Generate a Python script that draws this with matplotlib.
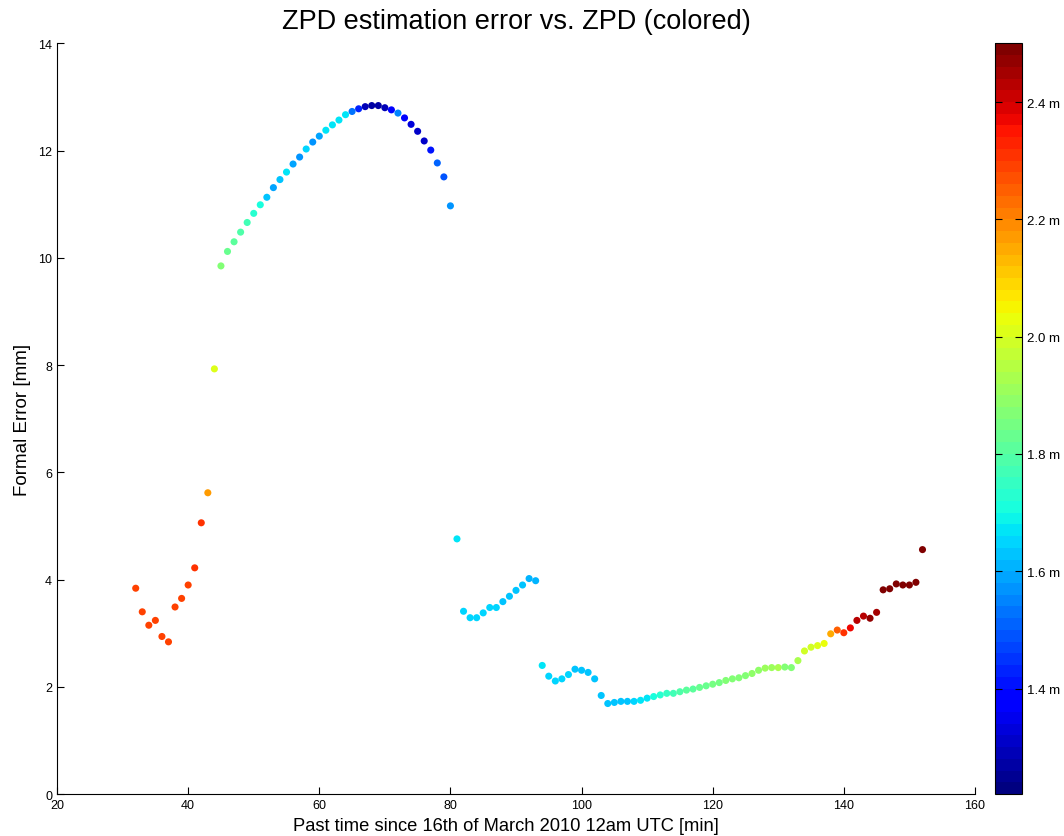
import numpy as np
import matplotlib
matplotlib.use('Agg')
import matplotlib.pyplot as plt

plt.rcParams['font.family'] = ['Liberation Sans', 'DejaVu Sans']

# minutes since 16th of March 2010 12am UTC
minutes = [32, 33, 34, 35, 36, 37, 38, 39, 40, 41, 42, 43, 44,
           45, 46, 47, 48, 49, 50, 51, 52, 53, 54, 55, 56, 57, 58, 59, 60,
           61, 62, 63, 64, 65, 66, 67, 68, 69, 70, 71, 72, 73, 74, 75, 76,
           77, 78, 79, 80,
           81, 82, 83, 84, 85, 86, 87, 88, 89, 90, 91, 92, 93,
           94, 95, 96, 97, 98, 99, 100, 101, 102, 103, 104, 105, 106, 107,
           108, 109, 110, 111, 112, 113, 114, 115, 116, 117, 118, 119, 120,
           121, 122, 123, 124, 125, 126, 127, 128, 129, 130, 131, 132, 133,
           134, 135, 136, 137, 138, 139, 140, 141, 142, 143, 144, 145, 146,
           147, 148, 149, 150, 151, 152]

# formal error [mm]
formal_err = [3.84, 3.40, 3.15, 3.24, 2.94, 2.84, 3.49, 3.65, 3.90, 4.22, 5.06, 5.62, 7.93,
              9.85, 10.12, 10.30, 10.48, 10.66, 10.83, 10.99, 11.13, 11.31, 11.46, 11.60,
              11.75, 11.88, 12.03, 12.16, 12.27, 12.38, 12.48, 12.57, 12.67, 12.73, 12.78,
              12.82, 12.84, 12.84, 12.80, 12.76, 12.70, 12.61, 12.49, 12.36, 12.18, 12.01,
              11.77, 11.51, 10.97,
              4.76, 3.41, 3.29, 3.29, 3.38, 3.48, 3.48, 3.59, 3.69, 3.80, 3.90, 4.02, 3.98,
              2.40, 2.20, 2.11, 2.15, 2.23, 2.33, 2.31, 2.27, 2.15, 1.84, 1.69, 1.71, 1.73,
              1.73, 1.73, 1.75, 1.79, 1.82, 1.85, 1.88, 1.88, 1.91, 1.94, 1.96, 1.99, 2.02,
              2.05, 2.08, 2.12, 2.15, 2.17, 2.21, 2.25, 2.31, 2.35, 2.36, 2.36, 2.37, 2.36,
              2.49, 2.67, 2.74, 2.77, 2.81, 2.99, 3.06, 3.01, 3.10, 3.24, 3.32, 3.28, 3.39,
              3.81, 3.83, 3.92, 3.90, 3.90, 3.95, 4.56]

# ZPD [m] (colour)
zpd = [2.29, 2.29, 2.30, 2.29, 2.29, 2.30, 2.29, 2.29, 2.30, 2.32, 2.31, 2.16, 2.01,
       1.87, 1.83, 1.80, 1.79, 1.76, 1.72, 1.70, 1.64, 1.58, 1.63, 1.67, 1.58, 1.57,
       1.66, 1.56, 1.58, 1.67, 1.68, 1.68, 1.68, 1.52, 1.43, 1.28, 1.26, 1.26, 1.28,
       1.38, 1.55, 1.36, 1.33, 1.30, 1.31, 1.42, 1.50, 1.48, 1.56,
       1.67, 1.65, 1.65, 1.65, 1.65, 1.65, 1.65, 1.64, 1.64, 1.64, 1.63, 1.61, 1.61,
       1.68, 1.66, 1.65, 1.65, 1.65, 1.64, 1.64, 1.64, 1.62, 1.62, 1.62, 1.64, 1.64,
       1.64, 1.65, 1.67, 1.68, 1.70, 1.72, 1.74, 1.76, 1.78, 1.80, 1.81, 1.82, 1.83,
       1.84, 1.85, 1.86, 1.87, 1.88, 1.88, 1.89, 1.90, 1.91, 1.91, 1.92, 1.88, 1.87,
       1.92, 1.98, 1.99, 2.00, 2.03, 2.15, 2.25, 2.32, 2.37, 2.42, 2.43, 2.46, 2.45,
       2.48, 2.48, 2.48, 2.48, 2.48, 2.48, 2.48]

cbar_ticks = [1.4, 1.6, 1.8, 2.0, 2.2, 2.4]

fig = plt.figure(figsize=(10.64, 8.37), dpi=100)
ax = fig.add_axes([0.0536, 0.050, 0.8627, 0.897])
cax = fig.add_axes([0.9352, 0.050, 0.0254, 0.897])

sc = ax.scatter(minutes, formal_err, c=zpd, cmap=plt.get_cmap('jet', 64),
                vmin=1.22, vmax=2.50, s=26, linewidths=0)

ax.set_xlim(20, 160)
ax.set_ylim(0, 14)
ax.set_xticks(range(20, 161, 20))
ax.set_yticks(range(0, 15, 2))
ax.spines['top'].set_visible(False)
ax.spines['right'].set_visible(False)
ax.tick_params(direction='in', labelsize=9, length=5)
ax.set_xlabel('Past time since 16th of March 2010 12am UTC [min]', fontsize=13.2)
ax.xaxis.set_label_coords(0.4886, -0.030)
ax.set_ylabel('Formal Error [mm]', fontsize=13.5, labelpad=5)
ax.set_title('ZPD estimation error vs. ZPD (colored)', fontsize=19.5, pad=11)

cb = fig.colorbar(sc, cax=cax, ticks=cbar_ticks)
cb.ax.set_yticklabels(['%.1f m' % t for t in cbar_ticks])
cb.ax.tick_params(direction='in', left=True, right=True, length=5, labelsize=9.5)
cb.outline.set_linewidth(0.8)

fig.savefig('out.png', dpi=100)
